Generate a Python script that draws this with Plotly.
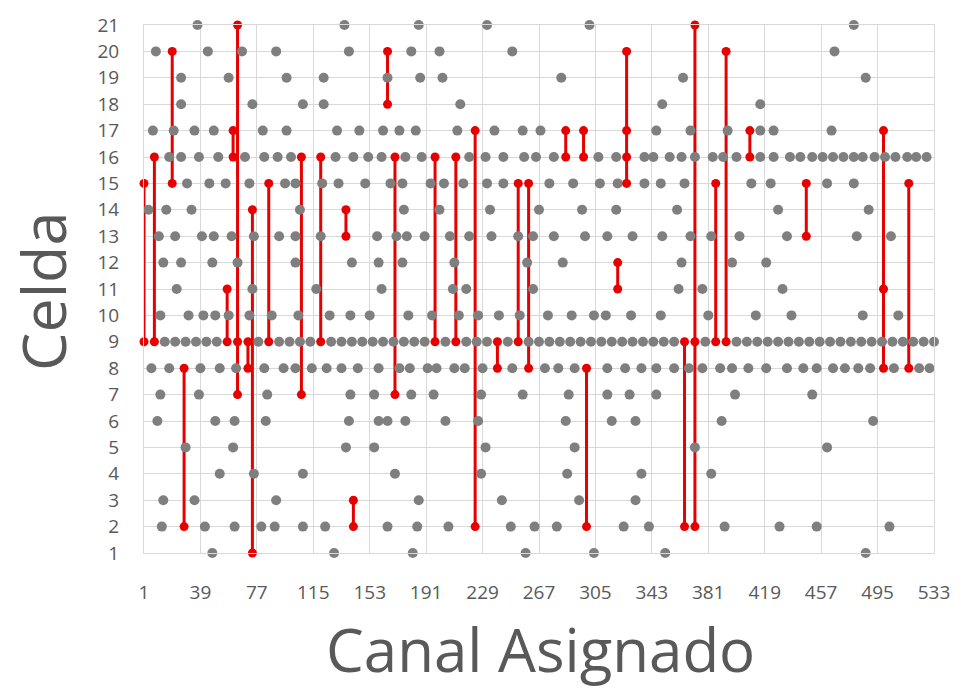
import plotly.graph_objects as go

# Channels occupied in each cell (gray markers)
cell_21 = [37, 136, 186, 232, 301, 479]
cell_20 = [9, 44, 67, 90, 139, 181, 200, 249, 466]
cell_19 = [26, 58, 97, 122, 165, 187, 202, 282, 364, 487]
cell_18 = [26, 74, 108, 122, 214, 350, 416]
cell_17 = [7, 21, 35, 48, 81, 97, 131, 146, 162, 173, 184, 212, 237, 256, 268,
           346, 369, 394, 416, 425, 464]
cell_16 = [18, 26, 38, 51, 69, 82, 91, 100, 130, 142, 152, 161, 177, 188, 220,
           231, 243, 257, 265, 277, 307, 319, 338, 344, 355, 363, 372, 384, 391,
           400, 416, 425, 436, 443, 451, 458, 465, 472, 479, 485, 493, 500, 507,
           515, 521, 528]
cell_15 = [30, 45, 56, 72, 96, 103, 121, 132, 150, 167, 175, 194, 203, 216, 232,
           243, 274, 290, 308, 320, 338, 349, 365, 410, 423, 461, 479]
cell_14 = [4, 16, 33, 106, 176, 200, 234, 267, 296, 319, 360, 428, 489]
cell_13 = [11, 22, 40, 48, 60, 75, 92, 103, 120, 158, 171, 178, 190, 207, 220,
           235, 253, 263, 277, 298, 313, 330, 350, 369, 383, 402, 434, 481, 504]
cell_12 = [14, 26, 47, 64, 103, 141, 159, 175, 210, 259, 283, 363, 397, 420]
cell_11 = [23, 74, 117, 161, 209, 218, 263, 361, 377, 431]
cell_10 = [12, 31, 41, 49, 58, 72, 87, 105, 126, 140, 153, 179, 195, 213, 226,
           240, 254, 273, 289, 304, 312, 329, 349, 381, 413, 437, 485, 509]
cell_9 = [15, 22, 29, 36, 43, 50, 78, 92, 99, 106, 113, 127, 134, 141, 148, 155,
          162, 169, 176, 183, 190, 204, 218, 225, 232, 246, 260, 267, 274, 281,
          288, 295, 302, 309, 316, 323, 330, 337, 344, 351, 358, 379, 400, 407,
          414, 421, 428, 435, 442, 449, 456, 463, 470, 477, 484, 491, 498, 505,
          512, 519, 526, 533]
cell_8 = [6, 18, 39, 52, 63, 82, 95, 103, 114, 124, 134, 145, 159, 173, 180, 192,
          198, 210, 217, 229, 249, 271, 280, 291, 313, 325, 336, 346, 358, 368,
          377, 389, 397, 408, 420, 434, 445, 454, 465, 473, 482, 490, 506, 523,
          530]
cell_7 = [12, 38, 84, 140, 156, 181, 196, 228, 256, 287, 313, 328, 346, 399, 451]
cell_6 = [10, 49, 62, 83, 139, 159, 165, 177, 204, 226, 285, 316, 332, 390, 492]
cell_5 = [29, 61, 137, 156, 231, 291, 372, 461]
cell_4 = [52, 75, 108, 170, 228, 286, 336, 383]
cell_3 = [14, 35, 90, 186, 242, 294, 332]
cell_2 = [13, 42, 62, 80, 89, 108, 123, 165, 185, 206, 248, 264, 279, 324, 341,
          392, 429, 454, 503]
cell_1 = [47, 129, 182, 258, 304, 352, 487]

# Channels reassigned between cells (red markers, joined per channel)
red_channel = [1, 1, 8, 8, 20, 20, 28, 28, 57, 57, 61, 61, 64, 64, 64, 71, 71,
               74, 74, 85, 85, 107, 107, 120, 120, 137, 137, 142, 142, 165, 165,
               170, 170, 197, 197, 211, 211, 224, 224, 239, 239, 253, 253, 260,
               260, 285, 285, 297, 297, 299, 299, 320, 320, 326, 326, 326, 326,
               365, 365, 372, 372, 372, 386, 386, 393, 393, 409, 409, 447, 447,
               499, 499, 499, 516, 516]
red_cell = [15, 9, 16, 9, 20, 15, 8, 2, 11, 9, 17, 16, 21, 9, 7, 9, 8,
            14, 1, 15, 9, 16, 7, 16, 9, 14, 13, 3, 2, 20, 18,
            16, 7, 16, 9, 16, 9, 17, 2, 9, 8, 15, 9, 15,
            8, 17, 16, 17, 16, 8, 2, 12, 11, 20, 17, 16, 15,
            9, 2, 21, 9, 2, 15, 9, 20, 9, 17, 16, 15, 13,
            17, 11, 8, 15, 8]

x_ticks = [1, 39, 77, 115, 153, 191, 229, 267, 305, 343, 381, 419, 457, 495, 533]
y_ticks = list(range(1, 22))

cells = {21: cell_21, 20: cell_20, 19: cell_19, 18: cell_18, 17: cell_17,
         16: cell_16, 15: cell_15, 14: cell_14, 13: cell_13, 12: cell_12,
         11: cell_11, 10: cell_10, 9: cell_9, 8: cell_8, 7: cell_7, 6: cell_6,
         5: cell_5, 4: cell_4, 3: cell_3, 2: cell_2, 1: cell_1}

gx, gy = [], []
for c, chans in cells.items():
    gx += chans
    gy += [c] * len(chans)

# vertical segment per reassigned channel, from lowest to highest cell
groups = {}
for ch, c in zip(red_channel, red_cell):
    groups.setdefault(ch, []).append(c)
lx, ly = [], []
for ch, cs in groups.items():
    lx += [ch, ch, None]
    ly += [min(cs), max(cs), None]

GRAY = "#7f7f7f"
RED = "#e60000"
TXT = "#595959"
FONT = "Open Sans, Noto Sans, sans-serif"

fig = go.Figure()
fig.add_trace(go.Scatter(x=lx, y=ly, mode="lines",
                         line=dict(color=RED, width=3), hoverinfo="skip",
                         cliponaxis=False, showlegend=False))
fig.add_trace(go.Scatter(x=gx, y=gy, mode="markers",
                         marker=dict(color=GRAY, size=10, line=dict(width=0)),
                         cliponaxis=False, showlegend=False))
fig.add_trace(go.Scatter(x=red_channel, y=red_cell, mode="markers",
                         marker=dict(color=RED, size=9, line=dict(width=0)),
                         cliponaxis=False, showlegend=False))

axis_common = dict(showgrid=True, gridcolor="#d9d9d9", gridwidth=1,
                   zeroline=False, showline=True, linecolor="#d9d9d9",
                   linewidth=1, mirror=True, ticks="",
                   tickfont=dict(family=FONT, size=19, color=TXT))

fig.update_xaxes(range=[1, 533], tickmode="array", tickvals=x_ticks,
                 ticktext=[str(v) for v in x_ticks], ticklabelstandoff=22,
                 **axis_common)
fig.update_yaxes(range=[1, 21], tickmode="array", tickvals=y_ticks,
                 ticktext=[str(v) for v in y_ticks], ticklabelstandoff=20,
                 **axis_common)

fig.add_annotation(text="Canal Asignado", xref="paper", yref="paper",
                   x=(540 - 144) / 790, y=(553 - 650) / 532,
                   xanchor="center", yanchor="middle", showarrow=False,
                   font=dict(family=FONT, size=60, color=TXT))
fig.add_annotation(text="Celda", xref="paper", yref="paper",
                   x=(43 - 144) / 790, y=(553 - 290) / 532, textangle=-90,
                   xanchor="center", yanchor="middle", showarrow=False,
                   font=dict(family=FONT, size=61, color=TXT))

fig.update_layout(width=962, height=694,
                  margin=dict(l=144, r=28, t=21, b=141),
                  paper_bgcolor="white", plot_bgcolor="white")

fig.write_html("out.html")
